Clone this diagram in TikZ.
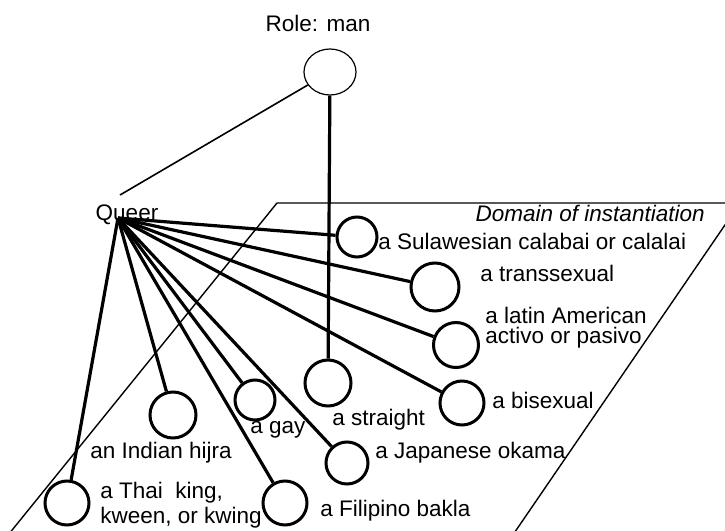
\documentclass[tikz,border=0pt]{standalone}
\usepackage{fontspec}
\setmainfont{Liberation Sans}
\usetikzlibrary{positioning, shapes.geometric}

\begin{document}
\begin{tikzpicture}[x=0.5pt, y=-0.5pt,
    inst/.style={circle, draw, line width=1.5pt, inner sep=0pt, minimum size=#1},
    inst/.default=22pt,
    link/.style={line width=1.6pt},
    lbl/.style={font=\fontsize{11.25}{13}\selectfont, inner sep=0pt}]
  \useasboundingbox (0,0) rectangle (725,531);
  % ---- domain of instantiation ----
  \begin{scope}
    \clip (0,0) rectangle (725,531);
    \draw[line width=0.7pt] (277,203) -- (740,203) -- (506,545) -- (0,545) -- cycle;
  \end{scope}
  \node[lbl, anchor=base east, font=\fontsize{11.25}{13}\selectfont\itshape]
    (domain) at (705,221) {Domain of instantiation};
  % ---- role and queer ----
  \node[lbl, anchor=base] (rolelbl) at (318,31) {Role: man};
  \node[ellipse, draw, line width=0.6pt, inner sep=0pt,
        minimum width=26pt, minimum height=23pt] (role) at (330,72) {};
  \node[lbl, anchor=base] (queer) at (127,220) {Queer};
  \coordinate (hub) at (118,218);
  \coordinate (qtop) at (120,195);
  % ---- instances ----
  \node[inst=20pt] (sulawesi) at (357,237) {};
  \node[inst=24pt] (trans) at (435,287) {};
  \node[inst=22.5pt] (latin) at (456,345) {};
  \node[inst] (bi) at (462,403) {};
  \node[inst=23pt] (straight) at (328,383) {};
  \node[inst=21pt] (okama) at (347,463) {};
  \node[inst] (bakla) at (285,503) {};
  \node[inst=20pt] (gay) at (255,400) {};
  \node[inst=23pt] (hijra) at (173,415) {};
  \node[inst] (thai) at (67,503) {};
  % ---- labels ----
  \node[lbl, anchor=base west] (sulawesilbl) at (378,249) {a Sulawesian calabai or calalai};
  \node[lbl, anchor=base west] (translbl) at (480,281) {a transsexual};
  \node[lbl, anchor=west, align=left, font=\fontsize{11.25}{10}\selectfont]
    (latinlbl) at (485,328) {a latin American\\activo or pasivo};
  \node[lbl, anchor=base west] (bilbl) at (492,408) {a bisexual};
  \node[lbl, anchor=base west] (straightlbl) at (332,425) {a straight};
  \node[lbl, anchor=base west] (okamalbl) at (375,458) {a Japanese okama};
  \node[lbl, anchor=base west] (baklalbl) at (320,516) {a Filipino bakla};
  \node[lbl, anchor=base west] (gaylbl) at (250,433) {a gay};
  \node[lbl, anchor=base west] (hijralbl) at (90,458) {an Indian hijra};
  \node[lbl, anchor=west, align=left, font=\fontsize{11.25}{12.5}\selectfont]
    (thailbl) at (100,505) {a Thai\ \ king,\\kween, or kwing};
  % ---- connectors ----
  \draw[line width=0.8pt] (role) -- (qtop);
  \draw[link] (role) -- (straight);
  \foreach \n in {sulawesi, trans, latin, bi, okama, bakla, gay, hijra, thai}
    \draw[link] (hub) -- (\n);
\end{tikzpicture}
\end{document}
